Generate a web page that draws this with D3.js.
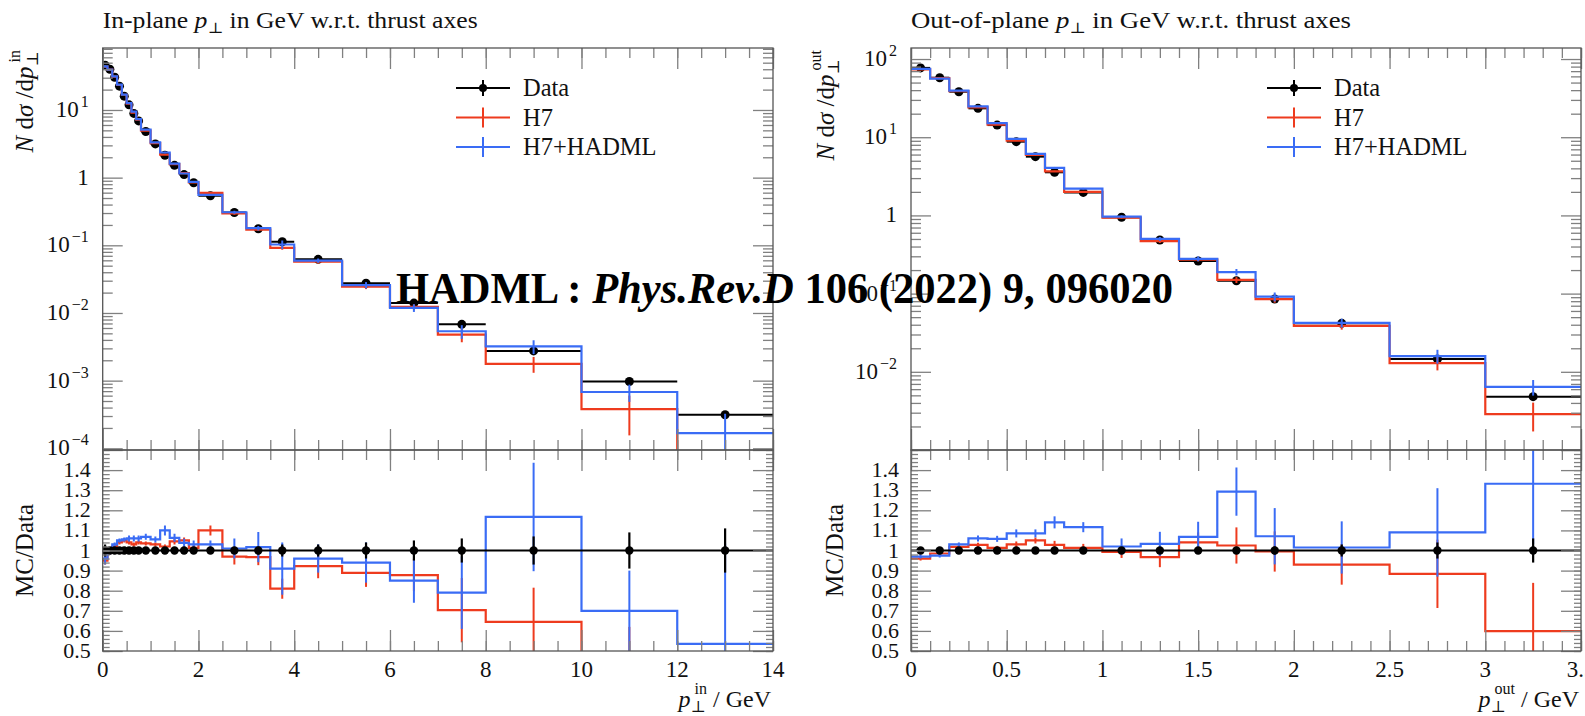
<!DOCTYPE html>
<html><head><meta charset="utf-8">
<script src="https://cdn.jsdelivr.net/npm/d3@7"></script>
<style>
body{margin:0;background:#fff;}
svg{display:block;font-family:"Liberation Serif","DejaVu Serif",serif;}
</style></head><body>
<svg id="chart" width="1585" height="716"></svg>
<script>
// ---- In-plane pT w.r.t. thrust axes ----
const inEdges = [0,0.1,0.2,0.3,0.4,0.5,0.6,0.7,0.8,1.0,1.2,1.4,1.6,1.8,2.0,2.5,3.0,3.5,4.0,5.0,6.0,7.0,8.0,10.0,12.0,14.0];
const inData = [46,40,30.5,22.5,16,11.9,8.9,6.9,4.8,3.15,2.14,1.52,1.11,0.84,0.54,0.305,0.176,0.113,0.062,0.0275,0.0140,0.0068,0.00275,0.00097,0.000313];
const inDataErr = [0.03,0.01,0.01,0.01,0.01,0.01,0.01,0.01,0.01,0.01,0.01,0.01,0.01,0.01,0.01,0.015,0.02,0.03,0.03,0.04,0.05,0.06,0.07,0.09,0.11];
const inH7Ratio = [0.95,0.99,1.02,1.04,1.05,1.04,1.03,1.04,1.035,1.03,1.02,1.045,1.05,1.013,1.10,0.97,0.967,0.81,0.922,0.889,0.877,0.703,0.645,0.39,0];
const inH7Err = [0.02,0.01,0.01,0.01,0.01,0.01,0.01,0.01,0.01,0.01,0.01,0.015,0.015,0.015,0.025,0.04,0.04,0.05,0.06,0.07,0.08,0.16,0.17,0.23,0];
const inHadRatio = [0.96,0.99,1.03,1.05,1.055,1.06,1.06,1.06,1.068,1.055,1.10,1.063,1.038,1.03,1.03,1.01,1.017,0.91,0.96,0.94,0.85,0.79,1.167,0.70,0.535];
const inHadErr = [0.03,0.01,0.01,0.01,0.01,0.015,0.015,0.015,0.015,0.015,0.025,0.02,0.02,0.02,0.02,0.05,0.075,0.13,0.07,0.10,0.11,0.18,0.27,0.2,0.5];

// ---- Out-of-plane pT w.r.t. thrust axes ----
const outEdges = [0,0.1,0.2,0.3,0.4,0.5,0.6,0.7,0.8,1.0,1.2,1.4,1.6,1.8,2.0,2.5,3.0,3.5];
const outData = [77,57.7,38.2,23.4,14.3,8.77,5.64,3.56,1.97,0.946,0.485,0.261,0.146,0.0853,0.0417,0.0146,0.00481];
const outDataErr = [0.01,0.01,0.01,0.01,0.01,0.01,0.01,0.01,0.01,0.01,0.01,0.01,0.015,0.02,0.03,0.04,0.06];
const outH7Ratio = [0.96,0.985,1.018,1.028,1.013,1.03,1.05,1.028,1.013,0.993,0.967,1.04,1.025,0.995,0.93,0.884,0.599];
const outH7Err = [0.01,0.01,0.01,0.01,0.01,0.015,0.015,0.02,0.02,0.03,0.05,0.05,0.09,0.1,0.1,0.17,0.24];
const outHadRatio = [0.97,0.975,1.03,1.06,1.058,1.085,1.085,1.14,1.116,1.02,1.033,1.068,1.293,1.071,1.015,1.09,1.332];
const outHadErr = [0.01,0.01,0.01,0.015,0.015,0.02,0.02,0.03,0.025,0.04,0.06,0.075,0.12,0.14,0.13,0.22,0.3];

// ---- tick values and labels ----
const inXMajor = [0,2,4,6,8,10,12,14];
const inXLabels = ["0","2","4","6","8","10","12","14"];
const outXMajor = [0,0.5,1,1.5,2,2.5,3,3.5];
const outXLabels = ["0","0.5","1","1.5","2","2.5","3","3.5"];
const inYDecades = [-4,-3,-2,-1,0,1];
const outYDecades = [-2,-1,0,1,2];
const ratioMajor = [0.5,0.6,0.7,0.8,0.9,1.0,1.1,1.2,1.3,1.4,1.5];
const ratioLabels = ["0.5","0.6","0.7","0.8","0.9","1","1.1","1.2","1.3","1.4"];
const legendLabels = ["Data","H7","H7+HADML"];

const RED = "#ee3b1e", BLUE = "#3a6cf5", FRAME = "#555", TICK = "#808080";
const MAIN_TOP = 48, MAIN_BOT = 450, RAT_BOT = 651;

const svg = d3.select("#chart");
const defs = svg.append("defs");

function drawPanel(o) {
  const n = o.data.length;
  const x = d3.scaleLinear().domain(o.xDomain).range([o.left, o.right]);
  const y = d3.scaleLog().domain(o.yDomain).range([MAIN_BOT, MAIN_TOP]);
  const yr = d3.scaleLinear().domain([0.5, 1.5]).range([RAT_BOT, MAIN_BOT]);
  const g = svg.append("g");

  const cm = o.id + "-clipm", cr = o.id + "-clipr";
  defs.append("clipPath").attr("id", cm).append("rect")
    .attr("x", o.left).attr("y", MAIN_TOP).attr("width", o.right - o.left).attr("height", MAIN_BOT - MAIN_TOP);
  defs.append("clipPath").attr("id", cr).append("rect")
    .attr("x", o.left).attr("y", MAIN_BOT).attr("width", o.right - o.left).attr("height", RAT_BOT - MAIN_BOT);

  const centers = d3.range(n).map(i => (o.edges[i] + o.edges[i + 1]) / 2);
  const yv = v => v > 0 ? y(v) : MAIN_BOT + 60;

  // ---------- main panel ----------
  const gm = g.append("g").attr("clip-path", `url(#${cm})`);

  // data: bin-width bars, error bars, markers
  for (let i = 0; i < n; i++) {
    const v = o.data[i], e = o.dataErr[i] * v;
    gm.append("line").attr("x1", x(o.edges[i])).attr("x2", x(o.edges[i + 1]))
      .attr("y1", y(v)).attr("y2", y(v)).attr("stroke", "#000").attr("stroke-width", 2);
    gm.append("line").attr("x1", x(centers[i])).attr("x2", x(centers[i]))
      .attr("y1", yv(v - e)).attr("y2", y(v + e)).attr("stroke", "#000").attr("stroke-width", 2);
    gm.append("circle").attr("cx", x(centers[i])).attr("cy", y(v)).attr("r", 4.5).attr("fill", "#000");
  }

  const stepLine = d3.line().x(d => x(d[0])).y(d => d[1]);
  function mcMain(ratio, err, color) {
    const pts = [];
    ratio.forEach((r, i) => {
      const v = r * o.data[i];
      pts.push([o.edges[i], yv(v)], [o.edges[i + 1], yv(v)]);
    });
    gm.append("path").attr("d", stepLine(pts)).attr("fill", "none")
      .attr("stroke", color).attr("stroke-width", 2.2);
    ratio.forEach((r, i) => {
      if (r <= 0) return;
      const v = r * o.data[i], e = err[i] * o.data[i];
      gm.append("line").attr("x1", x(centers[i])).attr("x2", x(centers[i]))
        .attr("y1", yv(v - e)).attr("y2", y(v + e)).attr("stroke", color).attr("stroke-width", 2);
    });
  }
  mcMain(o.h7Ratio, o.h7Err, RED);
  mcMain(o.hadRatio, o.hadErr, BLUE);

  // ---------- ratio panel ----------
  const gr = g.append("g").attr("clip-path", `url(#${cr})`);
  function mcRatio(ratio, err, color) {
    const pts = [];
    ratio.forEach((r, i) => {
      pts.push([o.edges[i], yr(r)], [o.edges[i + 1], yr(r)]);
    });
    gr.append("path").attr("d", stepLine(pts)).attr("fill", "none")
      .attr("stroke", color).attr("stroke-width", 2.2);
    ratio.forEach((r, i) => {
      if (err[i] <= 0) return;
      gr.append("line").attr("x1", x(centers[i])).attr("x2", x(centers[i]))
        .attr("y1", yr(r - err[i])).attr("y2", yr(r + err[i])).attr("stroke", color).attr("stroke-width", 2);
    });
  }
  mcRatio(o.h7Ratio, o.h7Err, RED);
  mcRatio(o.hadRatio, o.hadErr, BLUE);
  gr.append("line").attr("x1", x(o.edges[0])).attr("x2", x(o.edges[n]))
    .attr("y1", yr(1)).attr("y2", yr(1)).attr("stroke", "#000").attr("stroke-width", 2.2);
  for (let i = 0; i < n; i++) {
    gr.append("line").attr("x1", x(centers[i])).attr("x2", x(centers[i]))
      .attr("y1", yr(1 - o.dataErr[i])).attr("y2", yr(1 + o.dataErr[i])).attr("stroke", "#000").attr("stroke-width", 2.2);
    gr.append("circle").attr("cx", x(centers[i])).attr("cy", yr(1)).attr("r", 4.2).attr("fill", "#000");
  }

  // ---------- ticks ----------
  function ticks(axis, tr, size, values) {
    g.append("g").attr("transform", tr)
      .call(axis.tickValues(values).tickSize(size).tickFormat(""))
      .call(s => s.select(".domain").remove())
      .call(s => s.selectAll("text").remove())
      .selectAll("line").attr("stroke", TICK).attr("stroke-width", 1.3);
  }
  const [lo, hi] = o.yDomain;
  const logMajor = [], logMinor = [];
  for (let d = Math.floor(Math.log10(lo)); d <= Math.ceil(Math.log10(hi)); d++) {
    const p = Math.pow(10, d);
    if (p >= lo && p <= hi) logMajor.push(p);
    for (let m = 2; m <= 9; m++) { const v = m * p; if (v >= lo && v <= hi) logMinor.push(v); }
  }
  const xMinor = d3.range(o.xDomain[0], o.xDomain[1] + 1e-9, o.xMinorStep);
  const rMinor = d3.range(0.5, 1.5001, 0.02);

  ticks(d3.axisRight(y), `translate(${o.left},0)`, 20, logMajor);
  ticks(d3.axisRight(y), `translate(${o.left},0)`, 10, logMinor);
  ticks(d3.axisLeft(y), `translate(${o.right},0)`, 20, logMajor);
  ticks(d3.axisLeft(y), `translate(${o.right},0)`, 10, logMinor);
  ticks(d3.axisBottom(x), `translate(0,${MAIN_TOP})`, 21, o.xMajor);
  ticks(d3.axisBottom(x), `translate(0,${MAIN_TOP})`, 10, xMinor);
  ticks(d3.axisTop(x), `translate(0,${MAIN_BOT})`, 21, o.xMajor);
  ticks(d3.axisTop(x), `translate(0,${MAIN_BOT})`, 10, xMinor);

  ticks(d3.axisRight(yr), `translate(${o.left},0)`, 20, ratioMajor);
  ticks(d3.axisRight(yr), `translate(${o.left},0)`, 7, rMinor);
  ticks(d3.axisLeft(yr), `translate(${o.right},0)`, 20, ratioMajor);
  ticks(d3.axisLeft(yr), `translate(${o.right},0)`, 7, rMinor);
  ticks(d3.axisBottom(x), `translate(0,${MAIN_BOT})`, 21, o.xMajor);
  ticks(d3.axisBottom(x), `translate(0,${MAIN_BOT})`, 10, xMinor);
  ticks(d3.axisTop(x), `translate(0,${RAT_BOT})`, 21, o.xMajor);
  ticks(d3.axisTop(x), `translate(0,${RAT_BOT})`, 10, xMinor);

  // frames
  g.append("rect").attr("x", o.left).attr("y", MAIN_TOP).attr("width", o.right - o.left)
    .attr("height", MAIN_BOT - MAIN_TOP).attr("fill", "none").attr("stroke", FRAME).attr("stroke-width", 1.3);
  g.append("rect").attr("x", o.left).attr("y", MAIN_BOT).attr("width", o.right - o.left)
    .attr("height", RAT_BOT - MAIN_BOT).attr("fill", "none").attr("stroke", FRAME).attr("stroke-width", 1.3);

  // ---------- tick labels ----------
  o.yDecades.forEach(d => {
    const t = g.append("text").attr("x", o.left - 14).attr("y", y(Math.pow(10, d)) + 7)
      .attr("text-anchor", "end").attr("font-size", 23).attr("fill", "#111");
    if (d === 0) { t.text("1"); return; }
    t.append("tspan").text("10");
    t.append("tspan").attr("dx", 2).attr("dy", -10).attr("font-size", 16).text(d < 0 ? "\u2212" + (-d) : String(d));
  });
  ratioLabels.forEach(s => {
    g.append("text").attr("x", o.left - 12).attr("y", yr(+s) + 7).attr("text-anchor", "end")
      .attr("font-size", 22).attr("fill", "#111").text(s);
  });
  o.xMajor.forEach((v, i) => {
    g.append("text").attr("x", x(v)).attr("y", 677).attr("text-anchor", "middle")
      .attr("font-size", 23).attr("fill", "#111").text(o.xLabels[i]);
  });

  // ---------- titles ----------
  const title = g.append("text").attr("x", o.left).attr("y", 28).attr("font-size", 23).attr("fill", "#111")
    .attr("textLength", o.titleWidth).attr("lengthAdjust", "spacingAndGlyphs");
  title.append("tspan").text(o.titleStart + " ");
  title.append("tspan").attr("font-style", "italic").text("p");
  title.append("tspan").attr("dy", 5).attr("font-size", 15).text("\u22a5");
  title.append("tspan").attr("dy", -5).text(" in GeV w.r.t. thrust axes");

  const yl = g.append("text").attr("transform", `translate(${o.yTitleX},${MAIN_TOP + 2}) rotate(-90)`)
    .attr("text-anchor", "end").attr("font-size", 25).attr("fill", "#111");
  yl.append("tspan").attr("font-style", "italic").text("N");
  yl.append("tspan").text(" d");
  yl.append("tspan").attr("font-style", "italic").text("\u03c3");
  yl.append("tspan").text(" /d");
  yl.append("tspan").attr("font-style", "italic").text("p");
  yl.append("tspan").attr("dy", 5).attr("font-size", 16).text("\u22a5");
  yl.append("tspan").attr("dx", -11).attr("dy", -18).attr("font-size", 16).text(o.sup);

  g.append("text").attr("transform", `translate(${o.ratioTitleX},${(MAIN_BOT + RAT_BOT) / 2}) rotate(-90)`)
    .attr("text-anchor", "middle").attr("font-size", 25).attr("fill", "#111").text("MC/Data");

  const xl = g.append("text").attr("x", o.right - 2).attr("y", 707).attr("text-anchor", "end")
    .attr("font-size", 24).attr("fill", "#111");
  xl.append("tspan").attr("font-style", "italic").text("p");
  xl.append("tspan").attr("dy", 5).attr("font-size", 16).text("\u22a5");
  xl.append("tspan").attr("dx", -11).attr("dy", -18).attr("font-size", 16).text(o.sup);
  xl.append("tspan").attr("dy", 13).text(" / GeV");

  // ---------- legend ----------
  const colors = ["#000", RED, BLUE];
  legendLabels.forEach((lab, i) => {
    const ly = 88 + i * 29.5;
    const lg = g.append("g");
    lg.append("line").attr("x1", o.legendX).attr("x2", o.legendX + 54).attr("y1", ly).attr("y2", ly)
      .attr("stroke", colors[i]).attr("stroke-width", 2);
    lg.append("line").attr("x1", o.legendX + 27).attr("x2", o.legendX + 27)
      .attr("y1", ly - (i ? 10 : 8)).attr("y2", ly + (i ? 10 : 8)).attr("stroke", colors[i]).attr("stroke-width", 2);
    if (i === 0) lg.append("circle").attr("cx", o.legendX + 27).attr("cy", ly).attr("r", 4).attr("fill", "#000");
    lg.append("text").attr("x", o.legendX + 67).attr("y", ly + 8).attr("font-size", 24.5).attr("fill", "#111").text(lab);
  });
}

drawPanel({
  id: "in", left: 102.7, right: 773, xDomain: [0, 14], xMinorStep: 0.5,
  yDomain: [Math.pow(10, -4.025), Math.pow(10, 1.916)],
  edges: inEdges, data: inData, dataErr: inDataErr,
  h7Ratio: inH7Ratio, h7Err: inH7Err, hadRatio: inHadRatio, hadErr: inHadErr,
  xMajor: inXMajor, xLabels: inXLabels, yDecades: inYDecades,
  titleStart: "In-plane", titleWidth: 375, sup: "in", yTitleX: 33, ratioTitleX: 33, legendX: 456
});
drawPanel({
  id: "out", left: 911, right: 1581, xDomain: [0, 3.5], xMinorStep: 0.1,
  yDomain: [0.001, Math.pow(10, 2.141)],
  edges: outEdges, data: outData, dataErr: outDataErr,
  h7Ratio: outH7Ratio, h7Err: outH7Err, hadRatio: outHadRatio, hadErr: outHadErr,
  xMajor: outXMajor, xLabels: outXLabels, yDecades: outYDecades,
  titleStart: "Out-of-plane", titleWidth: 440, sup: "out", yTitleX: 834, ratioTitleX: 843, legendX: 1267
});

// publication reference stamp across both panels
const stamp = svg.append("text").attr("x", 396).attr("y", 303)
  .attr("font-size", 44).attr("font-weight", "bold").attr("fill", "#000")
  .attr("textLength", 777).attr("lengthAdjust", "spacingAndGlyphs");
stamp.append("tspan").text("HADML : ");
stamp.append("tspan").attr("font-style", "italic").text("Phys.Rev.D");
stamp.append("tspan").text(" 106 (2022) 9, 096020");
</script>
</body></html>
